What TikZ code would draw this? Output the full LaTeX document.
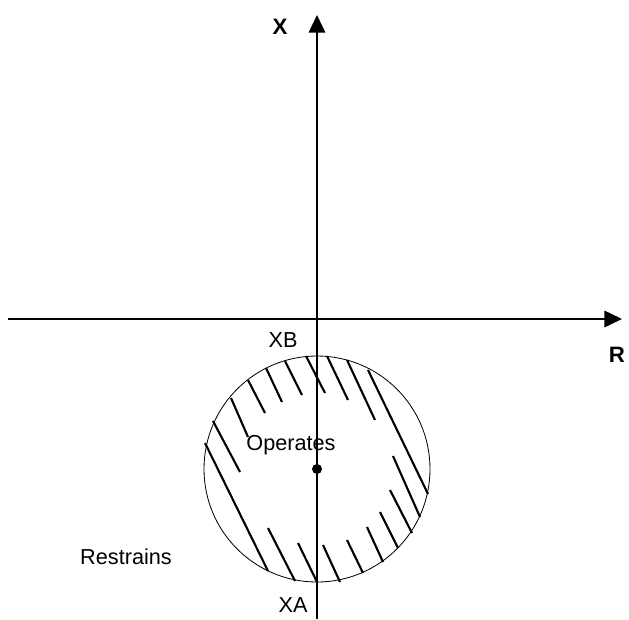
\documentclass[tikz,border=0pt]{standalone}
\usepackage{fontspec}
\setmainfont{Liberation Sans}
\usetikzlibrary{arrows.meta}

\begin{document}
\begin{tikzpicture}[x=0.03cm, y=-0.03cm,
  axis/.style={line width=1.8pt, -{Triangle[length=15pt, width=14pt]}},
  hatch/.style={line width=1.8pt},
  lbl/.style={font=\fontsize{18.5}{21}\selectfont, inner sep=0pt},
  blbl/.style={lbl, font=\fontsize{19}{21}\selectfont\bfseries}]
\useasboundingbox (0,0) rectangle (629,619);
% axes
\coordinate (Xbot) at (317,619);
\coordinate (Xtop) at (317,15);
\coordinate (Rleft) at (8,319);
\coordinate (Rright) at (622,319);
\draw[axis] (Rleft) -- (Rright);
\draw[axis] (Xbot) -- (Xtop);
\node[blbl] (xlab) at (280,27) {X};
\node[blbl] (rlab) at (617,355) {R};
% relay circle with hatched band
\coordinate (C) at (317,469);
\draw[line width=0.7pt] (C) circle[radius=113];
\foreach \xa/\ya/\xb/\yb in {306/356/325/393, 285/361/302/395, 266/368/282/402,
    248/380/265/413, 231/398/248/437, 213/421/240/472, 205/443/268/571,
    327/356/348/400, 347/360/375/420, 368/370/428/494, 393/456/420/517,
    390/490/412/533, 380/512/398/548, 367/527/383/562, 347/540/363/573,
    323/545/340/582, 298/543/317/582, 268/528/295/581}
  \draw[hatch] (\xa,\ya) -- (\xb,\yb);
\fill (C) circle[radius=5];
\node[lbl] (xb) at (283,340) {XB};
\node[lbl] (xa) at (293,605) {XA};
\node[lbl] (op) at (291,445) {Operates};
\node[lbl] (rs) at (126,557) {Restrains};
\end{tikzpicture}
\end{document}
